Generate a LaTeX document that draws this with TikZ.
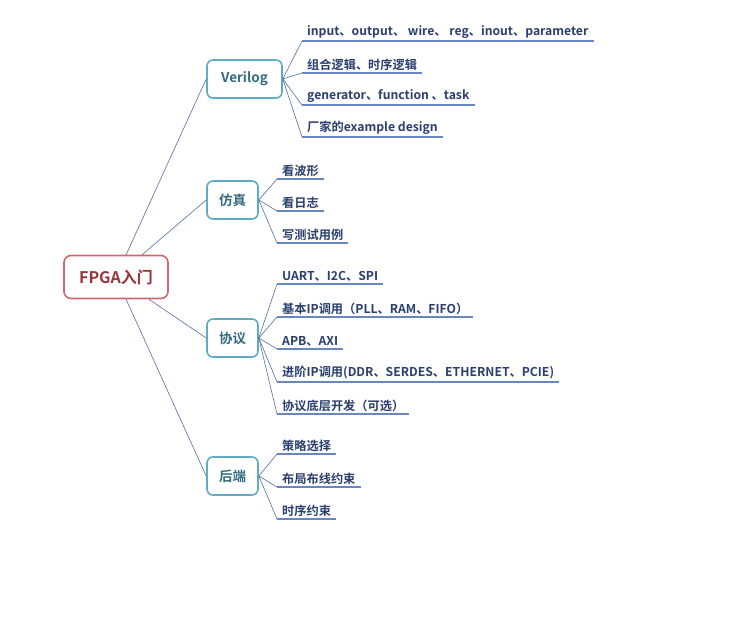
\documentclass[tikz,border=0pt]{standalone}
\usepackage{fontspec}
\setmainfont{Noto Sans CJK SC}[BoldFont={Noto Sans CJK SC Bold}]
\definecolor{rootline}{RGB}{208,104,110}
\definecolor{roottext}{RGB}{150,55,60}
\definecolor{topicline}{RGB}{96,172,196}
\definecolor{topictext}{RGB}{49,108,128}
\definecolor{branch}{RGB}{82,110,160}
\definecolor{leaftext}{RGB}{42,62,112}
\definecolor{underln}{RGB}{104,134,192}
\tikzset{
  rootbox/.style={draw=rootline, line width=1.6pt, rounded corners=7pt, fill=white,
    minimum width=104pt, minimum height=43pt, text=roottext, font=\bfseries\fontsize{16}{16}\selectfont},
  topicbox/.style={draw=topicline, line width=1.6pt, rounded corners=6pt, fill=white,
    minimum width=51pt, minimum height=38pt, text=topictext, font=\bfseries\fontsize{13.5}{14}\selectfont},
  leaf/.style={anchor=south west, inner xsep=5pt, inner ysep=2.5pt, text=leaftext,
    font=\bfseries\fontsize{12.2}{13}\selectfont},
  branchln/.style={draw=branch, line width=0.6pt},
  underline/.style={draw=underln, line width=1.6pt}
}
\begin{document}
\begin{tikzpicture}[x=1pt,y=-1pt]
    \useasboundingbox (0,0) rectangle (753,630);
    % root and main topics
    \node [rootbox] (fpga) at (116,277) {FPGA入门};
    \node [topicbox, minimum width=75pt] (verilog) at (244.5,79) {Verilog};
    \node [topicbox] (sim) at (232.5,200) {仿真};
    \node [topicbox] (proto) at (232.5,338) {协议};
    \node [topicbox] (back) at (232.5,476) {后端};
    % Verilog
    \node [leaf] (v1) at (302,41) {input、output、 wire、 reg、inout、parameter};
    \node [leaf] (v2) at (302,73) {组合逻辑、时序逻辑};
    \node [leaf] (v3) at (302,105) {generator、function 、task};
    \node [leaf] (v4) at (302,137) {厂家的example design};
    % simulation
    \node [leaf] (s1) at (277,179) {看波形};
    \node [leaf] (s2) at (277,211) {看日志};
    \node [leaf] (s3) at (277,243) {写测试用例};
    % protocols
    \node [leaf] (p1) at (277,284) {UART、I2C、SPI};
    \node [leaf] (p2) at (277,317) {基本IP调用（PLL、RAM、FIFO）};
    \node [leaf] (p3) at (277,349) {APB、AXI};
    \node [leaf] (p4) at (277,382) {进阶IP调用(DDR、SERDES、ETHERNET、PCIE)};
    \node [leaf] (p5) at (277,414) {协议底层开发（可选）};
    % back end
    \node [leaf] (b1) at (277,454) {策略选择};
    \node [leaf] (b2) at (277,487) {布局布线约束};
    \node [leaf] (b3) at (277,519) {时序约束};
    % branches from root
    \foreach \t in {verilog,sim,proto,back}
        \draw [branchln] (fpga) -- (\t.west);
    % leaves
    \foreach \p/\l in {verilog/v1,verilog/v2,verilog/v3,verilog/v4,
                       sim/s1,sim/s2,sim/s3,
                       proto/p1,proto/p2,proto/p3,proto/p4,proto/p5,
                       back/b1,back/b2,back/b3} {
        \draw [branchln] (\p.east) -- (\l.south west);
        \draw [underline] (\l.south west) -- (\l.south east);
    }
\end{tikzpicture}
\end{document}
